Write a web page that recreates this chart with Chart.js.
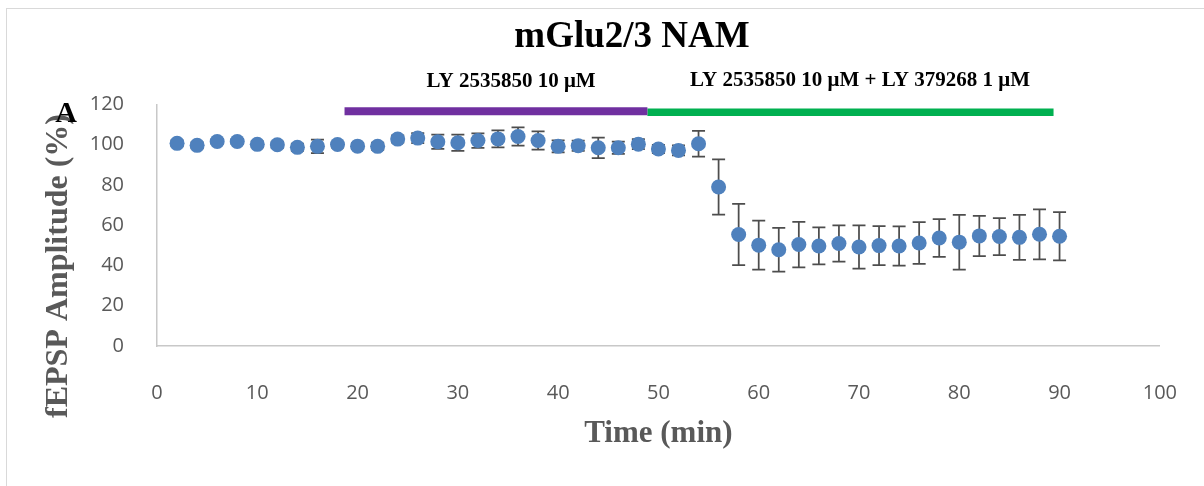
<!DOCTYPE html>
<html>
<head>
<meta charset="utf-8">
<script src="https://cdn.jsdelivr.net/npm/chart.js@4.4.1/dist/chart.umd.min.js"></script>
<style>
  html, body { margin: 0; padding: 0; background: #ffffff; }
  #c { display: block; }
</style>
</head>
<body>
<canvas id="c" width="1204" height="486"></canvas>
<script>
// ---- data ----
const chartTitle = 'mGlu2/3 NAM';
const xAxisTitle = 'Time (min)';
const yAxisTitle = 'fEPSP Amplitude (%)';
const panelLetter = 'A';

const timeMin = [2, 4, 6, 8, 10, 12, 14, 16, 18, 20, 22, 24, 26, 28, 30, 32, 34, 36, 38, 40, 42, 44, 46, 48, 50,
                 52, 54, 56, 58, 60, 62, 64, 66, 68, 70, 72, 74, 76, 78, 80, 82, 84, 86, 88, 90];
const amplitude = [100.7, 99.7, 101.6, 101.6, 100.2, 100.0, 98.7, 99.2, 100.1, 99.3, 99.2, 102.8, 103.3, 101.5, 101.0,
                   102.1, 102.9, 104.1, 102.1, 99.2, 99.5, 98.5, 98.5, 100.3, 97.9, 97.2, 100.5, 79.0, 55.4, 50.1,
                   47.8, 50.4, 49.7, 50.9, 49.2, 49.9, 49.7, 51.2, 53.7, 51.6, 54.7, 54.4, 54.0, 55.5, 54.5];
const sem = [1.5, 1.5, 1.2, 1.3, 1.5, 1.5, 1.8, 3.3, 1.5, 1.5, 1.8, 1.8, 2.5, 3.5, 4.0,
             3.6, 4.2, 4.5, 4.5, 3.0, 2.5, 5.1, 3.0, 2.5, 2.0, 2.5, 6.4, 13.7, 15.2, 12.2,
             10.9, 11.3, 9.2, 9.0, 10.7, 9.7, 9.8, 10.4, 9.4, 13.6, 10.0, 9.2, 11.2, 12.4, 12.0];

// treatment bars (x start, x end, y level) and their labels
const drug1Label = 'LY 2535850 10 \u03BCM';
const drug1Range = [18.7, 48.9];
const drug1Level = 116.6;
const drug1LabelPos = [35.3, 128.7];
const drug2Label = 'LY 2535850 10 \u03BCM + LY 379268 1 \u03BCM';
const drug2Range = [48.9, 89.4];
const drug2Level = 116.2;
const drug2LabelPos = [70.1, 129.3];

const xTicks = [0, 10, 20, 30, 40, 50, 60, 70, 80, 90, 100];
const yTicks = [0, 20, 40, 60, 80, 100, 120];

// ---- plugins ----
const serif = '"Liberation Serif", "Times New Roman", serif';
const sans = '"Open Sans", "Liberation Sans", sans-serif';

const decorPlugin = {
  id: 'decor',
  beforeDraw(chart) {
    const ctx = chart.ctx;
    ctx.save();
    ctx.fillStyle = '#ffffff';
    ctx.fillRect(0, 0, chart.width, chart.height);
    ctx.strokeStyle = '#d9d9d9';
    ctx.lineWidth = 1;
    ctx.strokeRect(6.5, 8.5, chart.width + 10, chart.height + 50);
    ctx.restore();
  },
  beforeDatasetsDraw(chart) {
    const ctx = chart.ctx;
    const xs = chart.scales.x, ys = chart.scales.y;
    ctx.save();
    ctx.strokeStyle = '#4d4d4d';
    ctx.lineWidth = 1.75;
    const cap = 6.5;
    for (let i = 0; i < timeMin.length; i++) {
      const px = xs.getPixelForValue(timeMin[i]);
      const yt = ys.getPixelForValue(amplitude[i] + sem[i]);
      const yb = ys.getPixelForValue(amplitude[i] - sem[i]);
      ctx.beginPath();
      ctx.moveTo(px, yt); ctx.lineTo(px, yb);
      ctx.moveTo(px - cap, yt); ctx.lineTo(px + cap, yt);
      ctx.moveTo(px - cap, yb); ctx.lineTo(px + cap, yb);
      ctx.stroke();
    }
    ctx.restore();
  },
  afterDraw(chart) {
    const ctx = chart.ctx;
    const xs = chart.scales.x, ys = chart.scales.y;
    ctx.save();
    // chart title
    ctx.fillStyle = '#000000';
    ctx.font = 'bold 37px ' + serif;
    ctx.textAlign = 'center';
    ctx.textBaseline = 'alphabetic';
    ctx.fillText(chartTitle, 632, 46.7);
    // treatment labels
    ctx.font = 'bold 21px ' + serif;
    ctx.fillText(drug1Label, xs.getPixelForValue(drug1LabelPos[0]), ys.getPixelForValue(drug1LabelPos[1]));
    ctx.fillText(drug2Label, xs.getPixelForValue(drug2LabelPos[0]), ys.getPixelForValue(drug2LabelPos[1]));
    // y axis title
    ctx.save();
    ctx.translate(59, 266);
    ctx.rotate(-Math.PI / 2);
    ctx.fillStyle = '#595959';
    ctx.font = 'bold 32px ' + serif;
    ctx.textAlign = 'center';
    ctx.textBaseline = 'middle';
    ctx.fillText(yAxisTitle, 0, 0);
    ctx.restore();
    // panel letter
    ctx.fillStyle = '#000000';
    ctx.font = 'bold 30px ' + serif;
    ctx.textAlign = 'center';
    ctx.textBaseline = 'alphabetic';
    ctx.fillText(panelLetter, 66, 121.7);
    ctx.restore();
  }
};

const mainData = timeMin.map((t, i) => ({ x: t, y: amplitude[i] }));

new Chart(document.getElementById('c'), {
  type: 'scatter',
  data: {
    datasets: [
      {
        label: 'drug1',
        data: [{ x: drug1Range[0], y: drug1Level }, { x: drug1Range[1], y: drug1Level }],
        showLine: true,
        borderColor: '#7030A0',
        borderWidth: 8,
        borderCapStyle: 'butt',
        pointRadius: 0,
        order: 2
      },
      {
        label: 'drug2',
        data: [{ x: drug2Range[0], y: drug2Level }, { x: drug2Range[1], y: drug2Level }],
        showLine: true,
        borderColor: '#00B050',
        borderWidth: 7.5,
        borderCapStyle: 'butt',
        pointRadius: 0,
        order: 2
      },
      {
        label: 'fEPSP',
        data: mainData,
        showLine: false,
        pointRadius: 7.5,
        pointHoverRadius: 7.5,
        pointBackgroundColor: '#4F81BD',
        pointBorderColor: '#4F81BD',
        pointBorderWidth: 0,
        order: 1
      }
    ]
  },
  options: {
    responsive: false,
    devicePixelRatio: 1,
    animation: false,
    layout: { padding: { left: 0, right: 43, top: 104.5, bottom: 30 } },
    plugins: {
      legend: { display: false },
      tooltip: { enabled: false },
      title: { display: false }
    },
    scales: {
      x: {
        type: 'linear',
        min: 0, max: 100,
        afterBuildTicks(s) { s.ticks = xTicks.map(v => ({ value: v })); },
        afterFit(s) { s.height = 110; },
        grid: { display: false },
        border: { display: true, color: '#c8c8c8', width: 1.5 },
        ticks: { color: '#595959', font: { family: sans, size: 20 }, padding: 27, maxRotation: 0 },
        title: {
          display: true,
          text: xAxisTitle,
          color: '#595959',
          font: { family: serif, size: 31, weight: 'bold', lineHeight: 1.2 },
          padding: { top: 0, bottom: 3 }
        }
      },
      y: {
        type: 'linear',
        min: 0, max: 120,
        afterBuildTicks(s) { s.ticks = yTicks.map(v => ({ value: v })); },
        afterFit(s) { s.width = 157; },
        grid: { display: false },
        border: { display: true, color: '#c8c8c8', width: 1.5 },
        ticks: { color: '#595959', font: { family: sans, size: 20 }, padding: 25 }
      }
    }
  },
  plugins: [decorPlugin]
});
</script>
</body>
</html>
